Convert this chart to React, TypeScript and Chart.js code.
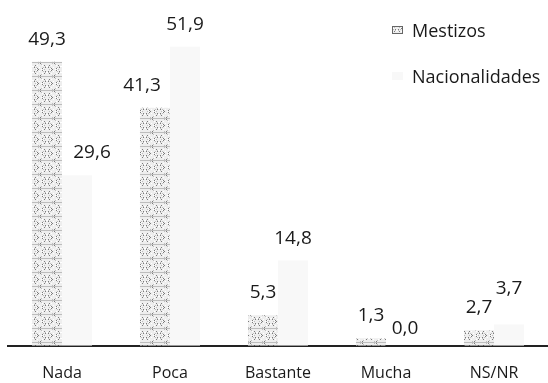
import React, { useEffect, useRef } from "react";
import { Chart, registerables } from "chart.js";

Chart.register(...registerables);

const categories = ["Nada", "Poca", "Bastante", "Mucha", "NS/NR"];
const seriesNames = ["Mestizos", "Nacionalidades"];
const mestizos = [49.3, 41.3, 5.3, 1.3, 2.7];
const nacionalidades = [29.6, 51.9, 14.8, 0.0, 3.7];

const FONT = "'Open Sans', 'DejaVu Sans', sans-serif";

function makePattern(): CanvasPattern | string {
  const c = document.createElement("canvas");
  c.width = 14;
  c.height = 14;
  const g = c.getContext("2d");
  if (!g) return "#dcdcdc";
  g.fillStyle = "#eeeeee";
  g.fillRect(0, 0, 14, 14);
  for (let y = 0; y < 14; y++) {
    for (let x = 0; x < 14; x++) {
      const h = (x * 37 + y * 91 + x * y * 13) % 23;
      if (h === 0 || h === 11) {
        g.fillStyle = "#7a7a7a";
        g.fillRect(x, y, 1, 1);
      } else if (h === 3 || h === 8 || h === 17) {
        g.fillStyle = "#bdbdbd";
        g.fillRect(x, y, 1, 1);
      } else if (h === 14 || h === 20) {
        g.fillStyle = "#ffffff";
        g.fillRect(x, y, 1, 1);
      }
    }
  }
  return g.createPattern(c, "repeat") ?? "#dcdcdc";
}

// small manual nudges for value labels (style only): key "dataset-index" -> [dx, dy]
const labelNudges: Record<string, [number, number]> = {
  "1-0": [15, 0],
  "0-1": [-13, 0],
  "1-3": [4, 5],
  "1-4": [0, -13],
};

const valueLabels = {
  id: "valueLabels",
  afterDatasetsDraw(chart: any) {
    const ctx = chart.ctx as CanvasRenderingContext2D;
    ctx.save();
    ctx.font = `19px ${FONT}`;
    ctx.fillStyle = "#1a1a1a";
    ctx.textAlign = "center";
    ctx.textBaseline = "alphabetic";
    chart.data.datasets.forEach((ds: any, di: number) => {
      const meta = chart.getDatasetMeta(di);
      meta.data.forEach((el: any, i: number) => {
        const v = ds.data[i] as number;
        const n = labelNudges[`${di}-${i}`] || [0, 0];
        ctx.fillText(v.toFixed(1).replace(".", ","), el.x + n[0], el.y - 17 + n[1]);
      });
    });
    ctx.restore();
  },
};

const customLegend = {
  id: "customLegend",
  afterDraw(chart: any) {
    const ctx = chart.ctx as CanvasRenderingContext2D;
    ctx.save();
    ctx.font = `18px ${FONT}`;
    ctx.textAlign = "left";
    ctx.textBaseline = "middle";
    chart.data.datasets.forEach((ds: any, di: number) => {
      const cy = 32 + di * 46;
      ctx.fillStyle = ds.backgroundColor;
      ctx.fillRect(392, cy - 6, 11, 8);
      if (di === 0) {
        ctx.strokeStyle = "#666";
        ctx.lineWidth = 1;
        ctx.strokeRect(392.5, cy - 5.5, 10, 7);
      }
      ctx.fillStyle = "#1a1a1a";
      ctx.fillText(ds.label, 412, cy);
    });
    ctx.restore();
  },
};

export default function App() {
  const ref = useRef<HTMLCanvasElement | null>(null);

  useEffect(() => {
    document.body.style.margin = "0";
    const canvas = ref.current;
    if (!canvas) return;
    const pattern = makePattern();
    const chart = new Chart(canvas, {
      type: "bar",
      data: {
        labels: categories,
        datasets: [
          {
            label: seriesNames[0],
            data: mestizos,
            backgroundColor: pattern as any,
            borderWidth: 0,
            categoryPercentage: 0.556,
            barPercentage: 1,
          },
          {
            label: seriesNames[1],
            data: nacionalidades,
            backgroundColor: "#f8f8f8",
            borderWidth: 0,
            categoryPercentage: 0.556,
            barPercentage: 1,
          },
        ],
      },
      options: {
        animation: false,
        responsive: false,
        devicePixelRatio: 1,
        layout: { padding: { left: 8, right: 0, top: 0, bottom: -18 } },
        plugins: {
          legend: { display: false },
          tooltip: { enabled: false },
        },
        scales: {
          x: {
            grid: { display: false, drawTicks: false },
            border: { display: true, color: "#222", width: 2 },
            ticks: {
              color: "#1a1a1a",
              padding: 18,
              font: { family: FONT, size: 16 },
            },
          },
          y: {
            display: false,
            min: 0,
            max: 60,
          },
        },
      },
      plugins: [valueLabels, customLegend],
    });
    return () => chart.destroy();
  }, []);

  return (
    <div style={{ width: 548, height: 383 }}>
      <canvas ref={ref} width={548} height={383} />
    </div>
  );
}
